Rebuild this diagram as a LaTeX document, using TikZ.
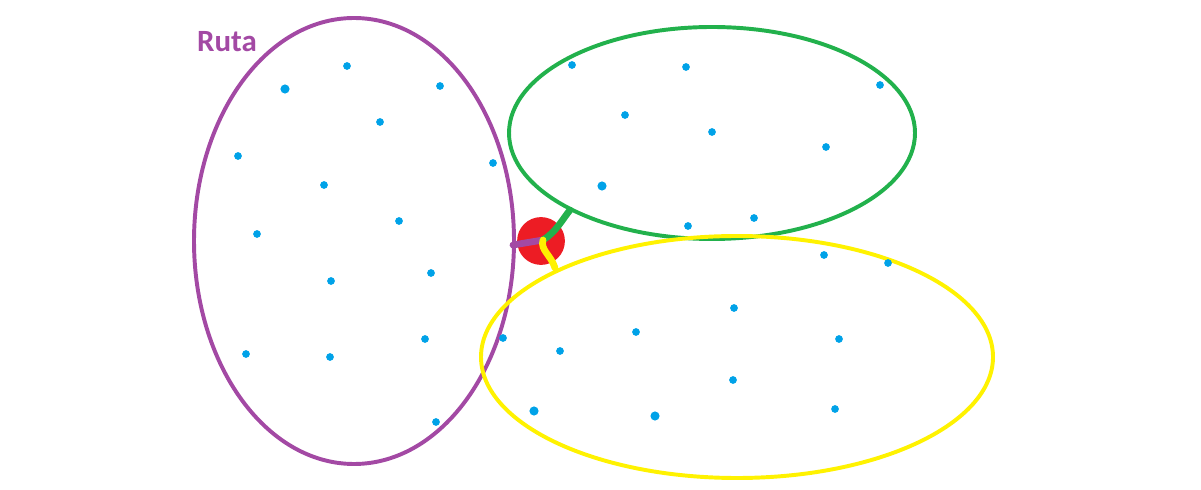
\documentclass[tikz,border=0pt]{standalone}
\usepackage{fontspec}
\setsansfont{Carlito}
\usetikzlibrary{positioning, calc}
\definecolor{rutapurple}{RGB}{163, 73, 164}
\definecolor{zonegreen}{RGB}{34, 177, 76}
\definecolor{zoneyellow}{RGB}{255, 242, 0}
\definecolor{hubred}{RGB}{237, 28, 36}
\definecolor{pointblue}{RGB}{0, 162, 232}

\begin{document}
\begin{tikzpicture}[
  x=0.025cm, y=-0.025cm,
  zone/.style={line width=2.8pt},
  pt/.style={circle, fill=pointblue, inner sep=0pt, minimum size=5.5pt},
  bigpt/.style={pt, minimum size=6.5pt},
  link/.style={line width=4.8pt, line cap=round}
]
  \useasboundingbox (0,0) rectangle (1201,490);

  % zones
  \draw[zone, draw=rutapurple] (354,241) ellipse [x radius=160, y radius=223];
  \draw[zone, draw=zonegreen] (712,133) ellipse [x radius=203, y radius=106];
  \draw[zone, draw=zoneyellow] (737,357) ellipse [x radius=256, y radius=121];

  \node[font=\sffamily\bfseries\fontsize{22}{26}\selectfont, text=rutapurple] (ruta) at (227,42) {Ruta};

  % points
  \foreach \px/\py in {347/66, 440/86, 380/122, 238/156, 324/185, 493/163, 399/221,
    257/234, 431/273, 331/281, 246/354, 330/357, 425/339, 436/422,
    572/65, 686/67, 880/85, 625/115, 712/132, 826/147, 688/226, 754/218,
    824/255, 888/263, 734/308, 636/332, 560/351, 503/338, 839/339, 733/380, 835/409}
    \node[pt] at (\px,\py) {};
  \foreach \px/\py in {285/89, 602/186, 534/411, 655/416}
    \node[bigpt] at (\px,\py) {};

  % hub and links
  \node[circle, fill=hubred, minimum size=34pt, inner sep=0pt] (hub) at (541,241) {};
  \coordinate (hubc) at (543,240);
  \coordinate (purpleend) at (513,245);
  \coordinate (greenend) at (570,210);
  \coordinate (yellowend) at (555,268);

  \draw[link, rutapurple] (purpleend) -- (hubc);
  \draw[link, zonegreen] (hubc) .. controls (556,232) and (562,220) .. (greenend);
  \draw[link, zoneyellow] (hubc) .. controls (540,250) and (551,255) .. (yellowend);
\end{tikzpicture}
\end{document}
